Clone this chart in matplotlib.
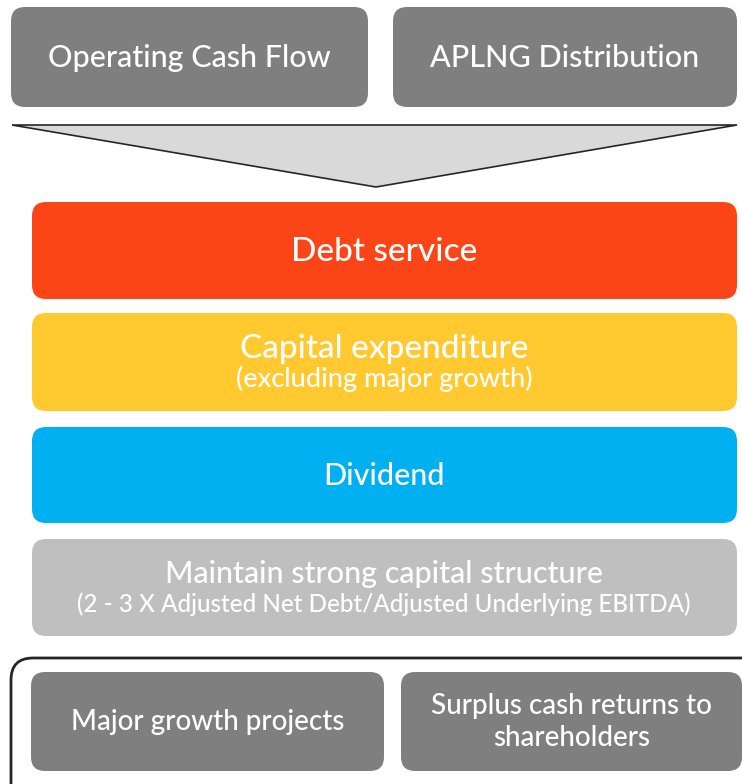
import matplotlib.pyplot as plt
from matplotlib.patches import FancyBboxPatch, Polygon

plt.switch_backend('Agg')
plt.rcParams['font.family'] = ['Lato', 'DejaVu Sans']

# Content of the diagram
source_labels = ['Operating Cash Flow', 'APLNG Distribution']
priority_titles = ['Debt service', 'Capital expenditure', 'Dividend',
                   'Maintain strong capital structure']
priority_notes = ['', '(excluding major growth)', '',
                  '(2 - 3 X Adjusted Net Debt/Adjusted Underlying EBITDA)']
priority_colors = ['#fc4516', '#ffc92f', '#00b0f0', '#bfbfbf']
outcome_labels = ['Major growth projects', 'Surplus cash returns to\nshareholders']

W, H = 742, 784
fig = plt.figure(figsize=(W / 100, H / 100), dpi=100)
ax = fig.add_axes([0, 0, 1, 1])
ax.set_xlim(0, W)
ax.set_ylim(H, 0)
ax.axis('off')


def box(x0, y0, x1, y1, color, r=14, **kw):
    p = FancyBboxPatch((x0, y0), x1 - x0, y1 - y0,
                       boxstyle=f'round,pad=0,rounding_size={r}',
                       facecolor=color, edgecolor='none', **kw)
    ax.add_patch(p)


# Source boxes
src_x = [(11, 368), (393, 737)]
for (x0, x1), label in zip(src_x, source_labels):
    box(x0, 7, x1, 107, '#7f7f7f')
    ax.text((x0 + x1) / 2, 58, label, color='white', fontsize=22,
            fontweight='medium', ha='center', va='center')

# Funnel arrow
ax.add_patch(Polygon([(12, 125), (737, 125), (376, 187)], closed=True,
                     facecolor='#d9d9d9', edgecolor='#262626', linewidth=1.2))

# Priority bars (title size, note size per bar)
title_sizes = [24, 24, 22, 22]
note_sizes = [0, 19.5, 0, 17.5]
bar_y = [(202, 299), (313, 411), (427, 523), (539, 636)]
for (y0, y1), title, note, color, ts, ns in zip(bar_y, priority_titles,
                                                priority_notes, priority_colors,
                                                title_sizes, note_sizes):
    box(32, y0, 737, y1, color)
    cy = (y0 + y1) / 2
    if note:
        ax.text(384, cy - 13, title, color='white', fontsize=ts,
                fontweight='medium', ha='center', va='center')
        ax.text(384, cy + 17, note, color='white', fontsize=ns,
                fontweight='medium', ha='center', va='center')
    else:
        ax.text(384, cy + 1, title, color='white', fontsize=ts,
                fontweight='medium', ha='center', va='center')

# Outcome frame
frame = FancyBboxPatch((11, 658), 760, 150,
                       boxstyle='round,pad=0,rounding_size=22',
                       facecolor='none', edgecolor='#262626', linewidth=2)
ax.add_patch(frame)

out_x = [(31, 384), (401, 742)]
for (x0, x1), label in zip(out_x, outcome_labels):
    box(x0, 672, x1, 771, '#7f7f7f')
    ax.text((x0 + x1) / 2, 722, label, color='white', fontsize=20,
            fontweight='medium', ha='center', va='center', linespacing=1.25)

fig.savefig('out.png', dpi=100)
